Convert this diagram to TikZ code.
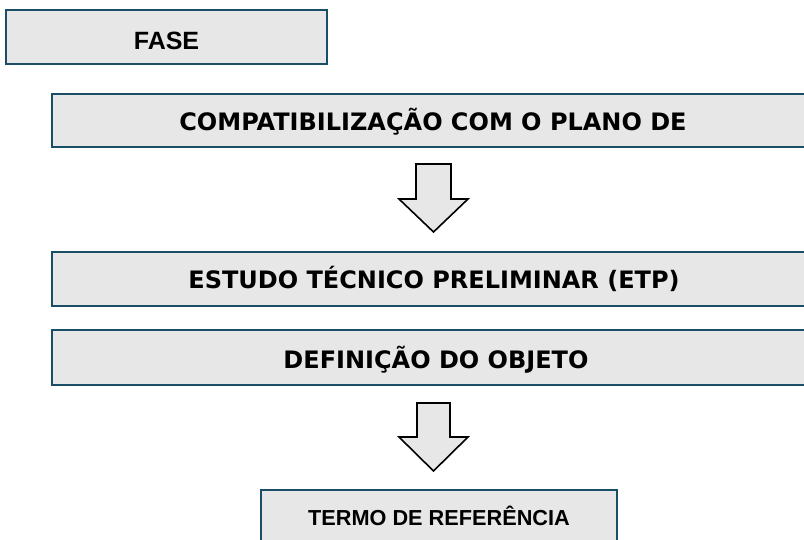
\documentclass[tikz,border=0pt]{standalone}
\usepackage{fontspec}
\setmainfont{Liberation Sans}
\newfontfamily\widefont{DejaVu Sans}
\definecolor{boxfill}{HTML}{E7E7E7}
\definecolor{boxline}{HTML}{1A4D66}
\begin{document}
\begin{tikzpicture}[x=1pt,y=-1pt,
  phasebox/.style={draw=boxline, line width=2.6pt, fill=boxfill, rectangle,
    inner xsep=0pt, inner ysep=0pt, anchor=base, font=\bfseries},
  blockarrow/.style={draw=black, line width=1.6pt, fill=boxfill, line join=miter}]
\useasboundingbox (0,0) rectangle (804,540);
\clip (0,0) rectangle (804,540);
\node[phasebox, minimum width=321pt, text height=40pt, text depth=14pt,
  font=\bfseries\fontsize{25}{30}\selectfont] (fase) at (166.5,50) {FASE};
\node[phasebox, minimum width=762pt, text height=37pt, text depth=16pt,
  font=\widefont\bfseries\fontsize{24}{29}\selectfont] (compat) at (433,131) {COMPATIBILIZAÇÃO COM O PLANO DE};
\node[phasebox, minimum width=764pt, text height=37pt, text depth=17pt,
  font=\widefont\bfseries\fontsize{24}{29}\selectfont] (etp) at (434,289) {ESTUDO TÉCNICO PRELIMINAR (ETP)};
\node[phasebox, minimum width=768pt, text height=39pt, text depth=16pt,
  font=\widefont\bfseries\fontsize{24}{29}\selectfont] (def) at (436,369) {DEFINIÇÃO DO OBJETO};
\node[phasebox, minimum width=356pt, text height=35pt, text depth=30pt,
  font=\bfseries\fontsize{21.7}{26}\selectfont] (termo) at (439,525) {TERMO DE REFERÊNCIA};
% block arrows
\draw[blockarrow] (416,164) -- (451,164) -- (451,199) -- (468,199) -- (433.5,232)
  -- (399,199) -- (416,199) -- cycle;
\draw[blockarrow] (417,403) -- (450,403) -- (450,437) -- (468,437) -- (433.5,471)
  -- (399,437) -- (417,437) -- cycle;
\end{tikzpicture}
\end{document}
